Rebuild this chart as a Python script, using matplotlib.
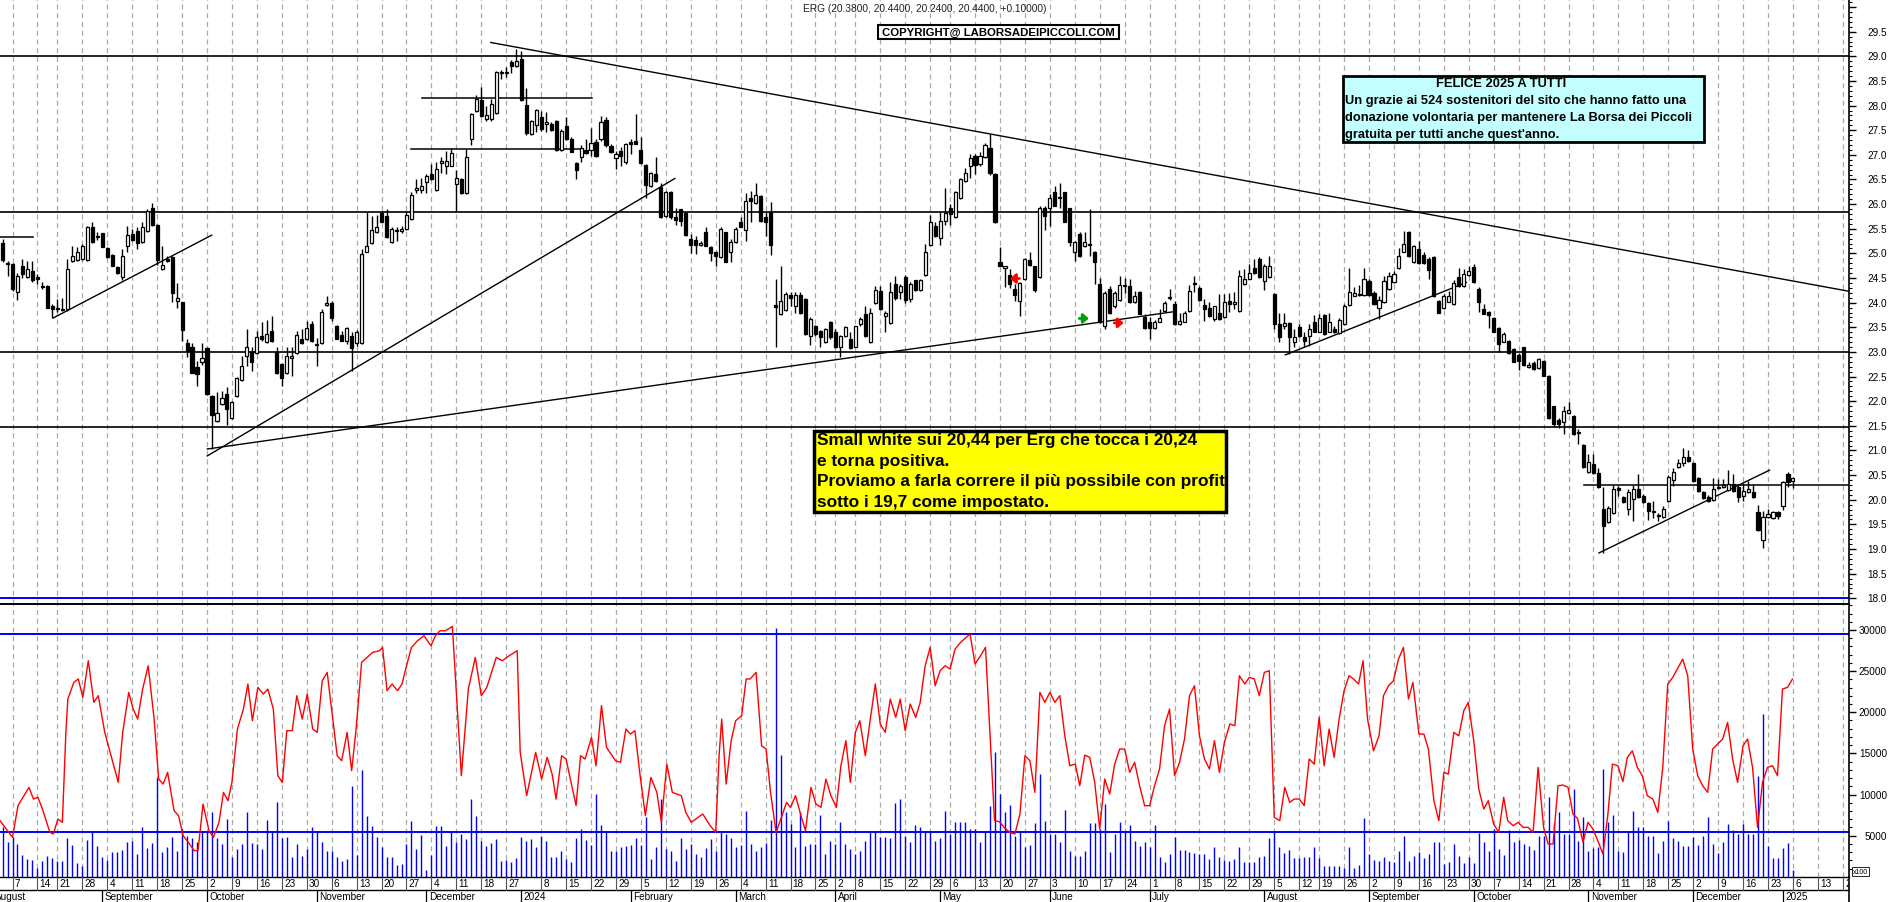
import numpy as np
import pandas as pd
import matplotlib
matplotlib.use("Agg")
import matplotlib.pyplot as plt
from matplotlib.patches import Rectangle
from matplotlib.transforms import blended_transform_factory as blend

# ------------------------------------------------------------------ data
title_text = "ERG (20.3800, 20.4400, 20.2400, 20.4400, +0.10000)"
copyright_text = "COPYRIGHT@ LABORSADEIPICCOLI.COM"
cyan_title = "FELICE 2025 A TUTTI"
cyan_lines = ["Un grazie ai 524 sostenitori del sito che hanno fatto una",
              "donazione volontaria per mantenere La Borsa dei Piccoli",
              "gratuita per tutti anche quest'anno."]
yellow_lines = ["Small white sui 20,44 per Erg che tocca i 20,24",
                "e torna positiva.",
                "Proviamo a farla correre il più possibile con profit",
                "sotto i 19,7 come impostato."]

holidays = ["2023-08-15", "2023-12-25", "2023-12-26", "2024-01-01", "2024-03-29",
            "2024-04-01", "2024-05-01", "2024-08-15", "2024-12-24", "2024-12-25",
            "2024-12-26", "2024-12-31", "2025-01-01"]
calendar_start, calendar_end, origin_day = "2023-08-01", "2025-01-24", "2023-08-07"
first_pos = -2   # first candle = 3 Aug 2023 ; position 0 = 7 Aug 2023

opens = [25.22, 24.80,
 24.78, 24.21, 24.75, 24.53, 24.65, 24.53, 24.34, 24.34, 23.94, 23.90,
 23.86, 23.87, 24.84, 24.87, 24.89, 24.87, 25.53, 25.36, 25.41, 25.10,
 24.97, 24.72, 24.53, 25.14, 25.39, 25.46, 25.24, 25.46, 25.93, 25.57,
 24.68, 24.89, 24.93, 24.04, 24.01, 23.18, 23.11, 22.69, 22.80, 23.07,
 22.10, 21.60, 21.94, 22.15, 21.65, 22.10, 22.44, 22.91, 23.00, 22.97,
 23.33, 23.21, 23.43, 23.00, 22.75, 22.57, 22.87, 22.97, 23.27, 23.26,
 23.57, 23.14, 23.19, 23.96, 23.99, 23.52, 23.34, 23.23, 23.32, 23.19,
 23.19, 25.03, 25.22, 25.43, 25.81, 25.75, 25.24, 25.45, 25.45, 25.49,
 25.70, 26.28, 26.29, 26.44, 26.61, 26.29, 26.83, 26.78, 26.78, 26.40,
 26.51, 26.22, 27.33, 27.88, 28.11, 27.73, 27.73, 27.85, 28.66, 28.66,
 28.88, 28.80, 28.94, 28.01, 27.42, 27.61, 27.76, 27.63, 27.63, 27.69,
 27.10, 27.59, 27.33, 26.83, 26.95, 27.10, 27.10, 27.27, 27.32, 27.71,
 27.17, 26.93, 27.08, 26.85, 27.27, 27.29, 27.10, 26.79, 26.36, 26.61,
 26.34, 25.75, 26.25, 25.73, 25.90, 25.82, 25.29, 25.27, 25.18, 25.43,
 25.12, 25.02, 24.92, 25.43, 25.03, 25.24, 25.63, 25.48, 26.12, 26.02,
 26.16, 25.73, 25.83, 23.95, 23.77, 23.86, 24.15, 23.94, 24.15, 24.07,
 23.32, 23.52, 23.43, 23.21, 23.61, 23.41, 23.09, 23.32, 23.26, 23.11,
 23.57, 23.77, 23.21, 23.99, 24.24, 23.72, 23.59, 24.38, 24.21, 24.53,
 24.07, 24.45, 24.26, 24.56, 25.17, 25.55, 25.32, 25.65, 25.93, 25.73,
 26.12, 26.46, 26.78, 26.98, 26.82, 26.95, 27.13, 26.61, 24.82, 24.70,
 24.56, 24.28, 24.04, 24.48, 24.87, 24.74, 24.53, 25.93, 25.93, 26.24,
 26.14, 26.24, 25.92, 25.02, 25.39, 25.14, 25.20, 25.02, 24.38, 23.53,
 24.28, 23.93, 24.06, 24.33, 24.33, 24.01, 24.22, 23.70, 23.61, 23.48,
 23.61, 23.84, 24.09, 23.97, 23.57, 23.61, 23.84, 24.39, 24.29, 23.95,
 23.89, 23.66, 23.79, 23.70, 24.04, 23.97, 23.84, 24.38, 24.49, 24.70,
 24.89, 24.43, 24.53, 24.18, 23.57, 23.52, 23.59, 23.20, 23.50, 23.30,
 23.32, 23.60, 23.41, 23.74, 23.41, 23.47, 23.38, 23.57, 23.95, 24.14,
 24.16, 24.16, 24.43, 24.20, 23.90, 24.01, 24.28, 24.41, 24.70, 25.03,
 25.44, 24.83, 25.09, 24.97, 24.89, 24.92, 24.04, 23.90, 24.02, 23.97,
 24.53, 24.33, 24.56, 24.72, 24.28, 23.88, 23.82, 23.68, 23.48, 23.21,
 23.23, 23.05, 22.94, 23.09, 22.69, 22.78, 22.67, 22.82, 22.52, 21.90,
 21.62, 21.58, 21.76, 21.69, 21.38, 21.11, 20.56, 20.72, 20.54, 19.81,
 19.54, 19.73, 20.24, 20.05, 19.82, 20.01, 20.22, 20.08, 19.93, 19.77,
 19.69, 19.64, 19.98, 20.41, 20.66, 20.74, 20.86, 20.74, 20.45, 20.16,
 20.05, 20.00, 20.24, 20.25, 20.20, 20.32, 20.25, 20.07, 20.15, 20.16,
 19.76, 19.19, 19.64, 19.62, 19.76, 19.87, 20.52, 20.38]

highs = [25.30, 24.85,
 24.80, 24.61, 24.89, 24.85, 24.85, 24.58, 24.41, 24.36, 23.97, 24.07,
 24.09, 24.89, 25.16, 25.12, 25.19, 25.55, 25.63, 25.43, 25.41, 25.12,
 24.99, 24.74, 25.09, 25.55, 25.49, 25.53, 25.63, 25.91, 26.02, 25.60,
 25.16, 24.95, 24.95, 24.40, 24.02, 23.27, 23.19, 22.81, 23.19, 23.11,
 22.13, 22.18, 22.21, 22.28, 22.01, 22.50, 22.92, 23.46, 23.09, 23.43,
 23.60, 23.65, 23.72, 23.11, 22.77, 23.11, 23.09, 23.43, 23.46, 23.62,
 23.62, 23.29, 23.88, 24.14, 24.04, 23.55, 23.43, 23.50, 23.40, 23.44,
 25.08, 25.83, 25.76, 25.78, 25.87, 25.91, 25.54, 25.54, 25.56, 25.87,
 26.24, 26.51, 26.52, 26.62, 26.81, 26.85, 26.96, 27.08, 27.14, 26.70,
 26.52, 27.12, 27.85, 28.21, 28.37, 28.00, 28.13, 28.71, 28.73, 28.78,
 28.92, 29.15, 29.11, 28.35, 27.71, 27.94, 27.88, 27.86, 27.66, 27.71,
 27.52, 27.76, 27.36, 26.85, 27.19, 27.32, 27.54, 27.33, 27.79, 27.76,
 27.22, 27.08, 27.15, 27.25, 27.32, 27.83, 27.36, 26.81, 26.66, 26.95,
 26.43, 26.27, 26.27, 25.93, 25.91, 25.83, 25.39, 25.36, 25.26, 25.53,
 25.16, 25.05, 25.53, 25.44, 25.29, 25.53, 25.73, 26.23, 26.27, 26.42,
 26.18, 25.83, 26.05, 24.48, 24.75, 24.22, 24.22, 24.22, 24.22, 24.09,
 23.70, 23.55, 23.45, 23.48, 23.63, 23.46, 23.34, 23.52, 23.40, 23.53,
 23.70, 23.94, 23.90, 24.33, 24.34, 23.84, 24.41, 24.55, 24.38, 24.56,
 24.41, 24.47, 24.48, 25.19, 25.77, 25.63, 25.85, 26.32, 26.00, 26.27,
 26.54, 26.73, 27.02, 27.02, 27.05, 27.25, 27.42, 26.63, 25.12, 24.75,
 24.68, 24.38, 24.41, 24.90, 25.02, 24.75, 25.96, 25.96, 26.21, 26.37,
 26.42, 26.25, 25.93, 25.26, 25.43, 25.43, 25.91, 25.04, 24.51, 24.24,
 24.34, 24.24, 24.55, 24.51, 24.48, 24.24, 24.24, 23.77, 23.70, 23.65,
 23.87, 24.04, 24.28, 24.04, 23.80, 23.84, 24.36, 24.55, 24.34, 24.07,
 24.01, 23.94, 24.18, 24.18, 24.20, 24.21, 24.67, 24.68, 24.78, 24.89,
 24.92, 24.78, 24.95, 24.20, 23.79, 23.79, 23.60, 23.47, 23.57, 23.40,
 23.57, 23.74, 23.77, 23.77, 23.80, 23.53, 23.68, 23.97, 24.70, 24.31,
 24.35, 24.70, 24.48, 24.24, 24.14, 24.55, 24.62, 24.65, 25.10, 25.46,
 25.46, 25.17, 25.26, 25.02, 24.92, 24.94, 24.06, 24.18, 24.24, 24.45,
 24.70, 24.68, 24.75, 24.78, 24.31, 23.97, 23.84, 23.70, 23.50, 23.41,
 23.25, 23.07, 22.98, 23.11, 22.79, 22.82, 22.87, 22.84, 22.53, 21.91,
 21.65, 21.91, 21.99, 21.72, 21.44, 21.13, 20.93, 20.93, 20.64, 20.25,
 19.88, 20.30, 20.27, 20.08, 20.22, 20.30, 20.52, 20.12, 19.96, 19.98,
 19.74, 19.88, 20.50, 20.64, 20.83, 21.06, 21.00, 20.76, 20.47, 20.18,
 20.10, 20.45, 20.43, 20.42, 20.61, 20.52, 20.29, 20.34, 20.39, 20.32,
 19.89, 19.78, 19.81, 19.78, 19.78, 20.39, 20.56, 20.44]

lows = [24.82, 24.55,
 24.24, 24.06, 24.51, 24.51, 24.41, 24.38, 24.28, 23.89, 23.69, 23.82,
 23.83, 23.84, 24.82, 24.85, 24.87, 24.85, 25.21, 25.28, 25.12, 24.91,
 24.74, 24.58, 24.45, 25.02, 25.26, 25.09, 25.22, 25.44, 25.56, 24.77,
 24.66, 24.82, 24.02, 23.90, 23.23, 22.89, 22.57, 22.31, 22.74, 22.13,
 21.03, 21.57, 21.92, 21.52, 21.64, 22.09, 22.42, 22.72, 22.62, 22.96,
 23.23, 23.19, 23.21, 22.55, 22.31, 22.55, 22.52, 22.96, 23.16, 23.25,
 23.21, 22.72, 23.16, 23.94, 23.63, 23.26, 23.22, 23.16, 22.62, 23.13,
 23.16, 25.02, 25.19, 25.41, 25.63, 25.32, 25.22, 25.26, 25.41, 25.47,
 25.68, 26.22, 26.22, 26.22, 26.48, 26.27, 26.63, 26.61, 26.77, 25.83,
 26.21, 26.21, 27.20, 27.86, 27.76, 27.68, 27.69, 27.83, 28.54, 28.57,
 28.67, 28.78, 28.10, 27.40, 27.41, 27.47, 27.49, 27.46, 27.49, 27.08,
 27.08, 27.31, 27.05, 26.51, 26.85, 27.02, 26.98, 26.95, 27.29, 27.15,
 27.04, 26.71, 26.78, 26.81, 27.02, 27.22, 26.81, 26.12, 26.34, 26.44,
 25.71, 25.73, 25.70, 25.58, 25.55, 25.35, 25.01, 24.99, 25.16, 25.14,
 24.85, 24.75, 24.90, 24.82, 24.83, 25.21, 25.53, 25.26, 25.64, 26.00,
 25.64, 25.35, 24.97, 23.11, 23.75, 23.84, 23.94, 23.80, 23.77, 23.34,
 23.14, 23.33, 23.11, 23.19, 23.27, 23.07, 22.89, 23.30, 23.05, 23.09,
 23.53, 23.30, 23.19, 23.97, 23.86, 23.40, 23.57, 24.06, 24.07, 23.99,
 24.02, 24.24, 24.24, 24.55, 25.16, 25.33, 25.18, 25.58, 25.58, 25.71,
 26.10, 26.44, 26.54, 26.61, 26.78, 26.93, 26.60, 25.62, 24.74, 24.31,
 24.29, 24.04, 23.72, 24.47, 24.75, 24.21, 24.51, 25.48, 25.56, 25.96,
 25.93, 25.63, 25.14, 24.85, 24.92, 25.12, 24.95, 24.38, 23.59, 23.47,
 23.77, 23.89, 24.04, 24.20, 24.00, 24.00, 23.76, 23.47, 23.26, 23.47,
 23.60, 23.82, 24.06, 23.55, 23.55, 23.60, 23.82, 24.21, 24.04, 23.63,
 23.70, 23.63, 23.65, 23.68, 23.82, 23.87, 23.82, 24.36, 24.48, 24.58,
 24.51, 24.26, 24.51, 23.47, 23.20, 23.47, 22.96, 23.09, 23.30, 23.09,
 23.13, 23.40, 23.40, 23.34, 23.40, 23.38, 23.37, 23.55, 23.94, 24.13,
 24.13, 24.14, 24.14, 23.95, 23.67, 23.99, 24.26, 24.40, 24.68, 25.02,
 24.92, 24.81, 24.79, 24.79, 24.48, 24.11, 23.79, 23.87, 24.01, 23.96,
 24.31, 24.31, 24.55, 24.40, 23.82, 23.76, 23.48, 23.40, 22.99, 23.20,
 22.96, 22.79, 22.64, 22.72, 22.67, 22.63, 22.65, 22.51, 21.64, 21.47,
 21.45, 21.33, 21.74, 21.31, 21.13, 20.64, 20.54, 20.52, 20.23, 18.92,
 19.53, 19.71, 20.08, 19.93, 19.69, 19.57, 20.03, 19.93, 19.59, 19.62,
 19.57, 19.62, 19.96, 20.27, 20.64, 20.68, 20.77, 20.37, 20.16, 20.01,
 19.96, 19.98, 20.22, 20.23, 20.18, 20.15, 19.95, 19.98, 20.14, 20.03,
 19.37, 19.03, 19.62, 19.61, 19.61, 19.80, 20.25, 20.24]

closes = [24.86, 24.79,
 24.28, 24.55, 24.58, 24.68, 24.47, 24.48, 24.31, 23.90, 23.87, 23.88,
 23.88, 24.68, 24.95, 25.02, 25.16, 25.53, 25.24, 25.34, 25.12, 24.92,
 24.75, 24.60, 24.95, 25.37, 25.28, 25.22, 25.53, 25.87, 25.58, 24.86,
 24.76, 24.84, 24.19, 24.09, 23.45, 23.02, 22.58, 22.55, 22.87, 22.15,
 21.72, 21.76, 22.06, 21.85, 21.99, 22.48, 22.72, 23.09, 22.80, 23.31,
 23.26, 23.36, 23.23, 22.57, 22.48, 22.92, 22.92, 23.35, 23.18, 23.49,
 23.23, 23.17, 23.82, 24.00, 23.68, 23.27, 23.23, 23.48, 23.07, 23.41,
 24.99, 25.14, 25.47, 25.53, 25.64, 25.34, 25.49, 25.47, 25.49, 25.78,
 26.19, 26.32, 26.37, 26.58, 26.51, 26.71, 26.88, 26.88, 27.04, 26.52,
 26.22, 26.95, 27.82, 28.13, 27.78, 27.81, 28.03, 28.69, 28.67, 28.69,
 28.80, 28.91, 28.11, 27.44, 27.68, 27.91, 27.52, 27.67, 27.50, 27.10,
 27.49, 27.33, 27.06, 26.69, 27.13, 27.04, 27.25, 26.98, 27.66, 27.19,
 27.06, 27.02, 26.98, 27.22, 27.23, 27.23, 26.83, 26.39, 26.63, 26.46,
 25.73, 26.25, 25.73, 25.68, 25.66, 25.37, 25.18, 25.18, 25.22, 25.16,
 25.01, 24.94, 25.49, 24.83, 25.24, 25.49, 25.54, 26.07, 26.07, 26.18,
 25.66, 25.64, 25.18, 23.92, 24.04, 24.17, 24.09, 24.15, 23.79, 23.36,
 23.67, 23.36, 23.30, 23.46, 23.30, 23.09, 23.32, 23.50, 23.07, 23.52,
 23.67, 23.32, 23.79, 24.26, 23.87, 23.78, 24.22, 24.09, 24.33, 24.06,
 24.38, 24.26, 24.47, 25.03, 25.64, 25.35, 25.66, 25.82, 25.80, 26.25,
 26.50, 26.63, 26.93, 26.80, 26.97, 27.19, 26.63, 25.64, 24.75, 24.74,
 24.38, 24.16, 24.40, 24.89, 24.76, 24.26, 25.93, 25.75, 26.12, 25.97,
 26.13, 25.64, 25.24, 25.24, 24.94, 25.23, 25.17, 24.83, 23.60, 24.20,
 23.79, 24.20, 24.36, 24.36, 24.02, 24.13, 23.77, 23.48, 23.48, 23.60,
 23.68, 23.99, 24.11, 23.57, 23.63, 23.80, 24.24, 24.37, 24.06, 23.87,
 23.72, 23.93, 23.67, 24.02, 23.97, 24.02, 24.55, 24.49, 24.60, 24.60,
 24.53, 24.75, 24.75, 23.57, 23.30, 23.59, 23.30, 23.30, 23.32, 23.23,
 23.47, 23.41, 23.68, 23.36, 23.60, 23.40, 23.65, 23.94, 24.22, 24.20,
 24.18, 24.49, 24.16, 23.97, 24.06, 24.43, 24.55, 24.58, 24.94, 25.19,
 24.94, 25.14, 24.81, 24.81, 24.67, 24.14, 23.80, 24.13, 24.13, 24.40,
 24.33, 24.58, 24.65, 24.41, 24.01, 23.77, 23.75, 23.41, 23.16, 23.36,
 22.98, 22.80, 22.82, 22.73, 22.73, 22.65, 22.86, 22.52, 21.65, 21.54,
 21.54, 21.81, 21.83, 21.33, 21.35, 20.66, 20.76, 20.54, 20.25, 19.47,
 19.83, 20.22, 20.20, 19.96, 20.15, 20.22, 20.05, 19.96, 19.78, 19.76,
 19.66, 19.81, 20.47, 20.56, 20.74, 20.86, 20.79, 20.39, 20.18, 20.03,
 19.98, 20.22, 20.26, 20.29, 20.32, 20.18, 20.05, 20.18, 20.22, 20.05,
 19.39, 19.64, 19.71, 19.76, 19.66, 20.35, 20.35, 20.44]

volumes = [6000, 4190,
 4800, 3990, 2650, 2160, 2040, 1030, 1960, 2490, 2240, 1960,
 1960, 4670, 3860, 1680, 1270, 4470, 5400, 3780, 2370, 2080,
 3050, 3050, 3300, 4270, 4390, 2770, 6090, 3540, 4110, 11960,
 2970, 3580, 4800, 3130, 5810, 4920, 4670, 4190, 5610, 5400,
 7830, 4670, 3990, 7020, 2370, 3380, 3990, 7830, 4070, 3990,
 3380, 6900, 5570, 9050, 4670, 4800, 2370, 3990, 2570, 3380,
 6010, 5400, 4270, 3170, 3090, 2450, 1960, 2160, 11070, 2650,
 13020, 7430, 6210, 4880, 3580, 2370, 2450, 1430, 1560, 3990,
 6820, 3380, 5080, 800, 2650, 6130, 6130, 3780, 5400, 4270,
 5200, 4590, 9450, 7430, 4390, 3780, 4110, 4590, 1960, 2080,
 1840, 2240, 4800, 4390, 4590, 3580, 5000, 4390, 2370, 2370,
 3170, 2160, 1760, 4670, 5810, 4510, 3900, 10060, 6290, 5400,
 3170, 3170, 3580, 3700, 3860, 4670, 3860, 7310, 2160, 3580,
 9450, 3380, 3170, 1960, 4670, 3380, 3990, 2770, 2370, 3460,
 4590, 3170, 5400, 5200, 4670, 3580, 3860, 8040, 3990, 3170,
 3580, 4110, 6940, 30200, 14800, 7830, 6410, 3580, 7910, 3780,
 3990, 3990, 7510, 2770, 4390, 3990, 6620, 3990, 3380, 2770,
 3170, 4390, 5610, 5610, 4800, 4800, 4670, 8970, 9450, 5000,
 4190, 6290, 6010, 5400, 5480, 4390, 4670, 8040, 5200, 6620,
 6700, 6700, 5810, 5810, 4190, 5400, 8550, 15120, 10060, 7910,
 8720, 5000, 5400, 3580, 3860, 6530, 12490, 6820, 5200, 5200,
 4190, 8160, 3170, 2570, 2570, 3170, 6530, 6530, 5810, 8840,
 3050, 5200, 6700, 5610, 6290, 4390, 3700, 4190, 3580, 6290,
 2370, 1840, 2770, 4800, 3300, 3300, 3050, 2890, 2770, 2770,
 2160, 3580, 2370, 2080, 1960, 2160, 3580, 1760, 1760, 1760,
 2370, 2570, 4670, 5400, 3580, 2890, 3300, 2240, 2240, 2370,
 2370, 3580, 2240, 1350, 1350, 1350, 1350, 1030, 3580, 1030,
 1430, 7110, 2770, 2080, 1960, 2370, 1960, 1760, 3170, 4920,
 1960, 2490, 3050, 2240, 2770, 4270, 4270, 1560, 1760, 3990,
 2490, 1680, 2370, 1680, 5320, 4270, 3170, 5810, 3380, 2650,
 5730, 4190, 4470, 3990, 3780, 3300, 5000, 5000, 9650, 6530,
 7910, 5200, 5200, 10670, 4390, 7220, 3170, 3460, 3580, 13100,
 6620, 7510, 3170, 2970, 5610, 7960, 6010, 6010, 4920, 5000,
 2890, 4390, 6820, 4670, 4310, 3780, 3700, 4800, 3860, 4920,
 7220, 3990, 2890, 4270, 6410, 5730, 5200, 6410, 5200, 5200,
 12300, 19780, 3780, 2240, 2240, 3460, 4070, 870]

# oscillator (red line) vertices: (trading-day position, value)
red_pos = [-2.5, 0.0, 1.1, 3.3, 4.2, 5.1, 6.0, 7.5, 8.2, 9.1, 10.0, 10.7, 11.1, 12.3, 13.2,
 14.1, 15.2, 16.3, 17.2, 18.5, 19.4, 20.3, 21.2, 22.1, 23.3, 24.2, 25.1, 26.1, 27.2, 28.4,
 29.3, 30.2, 31.1, 32.4, 33.3, 34.2, 35.5, 36.4, 37.2, 38.2, 39.4, 40.3, 41.4, 42.3, 43.2,
 44.0, 45.1, 46.3, 47.2, 48.1, 49.2, 50.3, 51.2, 52.3, 53.2, 54.1, 55.0, 56.1, 57.0, 58.1,
 59.1, 60.2, 61.1, 62.1, 63.1, 65.1, 66.0, 67.1, 68.0, 68.9, 70.0, 72.2, 73.6, 74.2, 75.1,
 76.1, 77.2, 78.1, 79.0, 80.0, 81.2, 82.5, 83.9, 84.8, 85.7, 86.8, 88.2, 90.0, 91.4, 92.8,
 94.0, 95.1, 97.0, 98.2, 99.6, 101.2, 101.8, 103.1, 104.9, 106.1, 107.2, 108.2, 109.0, 110.1,
 111.0, 113.0, 113.9, 114.8, 116.1, 117.0, 118.1, 119.1, 120.9, 121.9, 123.0, 123.9, 124.8,
 125.8, 126.9, 128.0, 129.2, 130.1, 131.2, 132.3, 134.1, 135.0, 136.1, 138.4, 139.9, 141.0,
 141.7, 142.2, 143.1, 144.1, 145.0, 146.2, 147.1, 147.9, 149.1, 150.2, 151.1, 152.0, 153.1,
 154.3, 155.2, 156.0, 157.0, 158.1, 159.0, 160.1, 161.1, 162.1, 163.1, 164.1, 165.2, 166.1,
 167.1, 168.0, 169.0, 169.9, 171.0, 172.0, 173.0, 174.0, 175.0, 176.0, 177.1, 178.0, 179.0,
 180.0, 181.1, 182.0, 183.0, 184.0, 185.0, 186.0, 187.0, 188.0, 189.0, 190.1, 191.0, 192.0,
 193.0, 194.1, 195.1, 196.9, 197.9, 199.0, 200.0, 201.0, 202.0, 203.0, 204.0, 205.0, 206.0,
 207.0, 208.0, 209.0, 210.0, 211.0, 212.0, 213.1, 214.0, 215.0, 216.0, 217.0, 218.0, 219.0,
 220.0, 221.0, 222.0, 223.0, 224.0, 225.0, 226.0, 227.0, 228.0, 229.0, 230.0, 231.0, 232.0,
 233.0, 234.0, 235.0, 236.0, 237.0, 238.0, 239.0, 240.0, 241.0, 242.0, 243.0, 244.1, 245.1,
 246.0, 247.1, 248.0, 249.0, 250.0, 251.0, 252.0, 253.0, 254.1, 255.1, 256.1, 257.0, 258.0,
 259.0, 260.0, 261.0, 262.0, 263.0, 264.0, 265.0, 266.0, 267.0, 268.0, 268.9, 269.9, 270.8,
 271.7, 272.9, 274.0, 274.9, 275.9, 276.9, 277.9, 278.9, 279.9, 280.8, 282.0, 283.0, 283.9,
 285.0, 286.0, 287.0, 287.9, 289.0, 290.0, 291.0, 291.9, 293.0, 294.0, 295.0, 295.9, 297.0,
 298.0, 299.0, 299.8, 300.9, 301.9, 302.9, 303.9, 304.9, 305.9, 307.0, 307.9, 308.9, 309.9,
 310.9, 311.9, 312.9, 313.8, 314.9, 315.9, 316.9, 318.0, 318.9, 319.9, 320.8, 321.9, 322.9,
 323.8, 324.8, 325.8, 326.8, 327.8, 328.9, 329.9, 330.9, 331.9, 332.9, 333.8, 334.9, 335.9,
 336.9, 337.9, 338.9, 339.9, 340.9, 341.9, 342.9, 343.9, 344.9, 345.9, 347.0, 347.9, 348.9,
 349.9, 350.9, 351.9, 352.9, 353.9, 354.9, 355.9, 356.9]
red_val = [6820, 4800, 8650, 10870, 9450, 9660, 8240, 5400, 5200, 7020, 6620, 17550, 21600, 23630, 24040,
 21810, 26260, 21200, 22010, 17550, 15530, 13500, 11480, 17550, 22410, 20390, 19170, 22820, 25650, 19170,
 11880, 11270, 12690, 8030, 7430, 5000, 3990, 3180, 3180, 8840, 5610, 4800, 6620, 10260, 9250,
 11480, 17960, 20390, 23430, 18970, 23020, 22210, 22820, 20390, 12290, 11480, 17760, 17760, 22010, 19170,
 22210, 17960, 17550, 23830, 24840, 14720, 14110, 17550, 12900, 17960, 26060, 27270, 27480, 27880, 22620,
 23430, 22620, 23430, 25650, 27880, 28690, 29300, 28080, 29300, 29900, 29900, 30430, 12290, 22820, 26670,
 22010, 23020, 26670, 26260, 26870, 27480, 15120, 9860, 15120, 11880, 14520, 12490, 9450, 14720,
 14310, 8650, 14720, 14310, 16940, 13500, 20800, 15730, 14110, 13910, 17960, 17350, 17760,
 12490, 7430, 12080, 10260, 6620, 13700, 10260, 9860, 7830, 6620, 7630, 6210, 5400,
 14920, 19170, 11270, 16540, 18970, 19580, 24040, 24040, 24840, 15930, 15530, 10260, 5400,
 7430, 9050, 8440, 9860, 7430, 5610, 10870, 8840, 8440, 11880, 9860, 8440, 13500,
 16540, 11480, 17550, 18970, 14720, 19170, 23430, 18560, 17550, 21600, 19380, 21600, 17760,
 21000, 19380, 21200, 25650, 27880, 23220, 25050, 25650, 25250, 27680, 28490, 28980, 29500,
 25860, 26870, 27880, 6820, 6700, 5890, 5400, 5200, 7630, 14720, 14110, 10260, 22410,
 21200, 22410, 21200, 22010, 17130, 13500, 13700, 11070, 14790, 14520, 11480, 5810, 11880,
 10060, 13700, 15530, 15530, 12690, 13910, 11070, 8640, 8640, 11070, 13100, 18360, 20390,
 12290, 13910, 16740, 22010, 23220, 17130, 14310, 13100, 16540, 12690, 16340, 18570, 18360,
 24440, 23430, 24240, 24030, 22010, 24840, 25050, 7230, 6820, 10870, 9050, 9450, 9450,
 8650, 14310, 13700, 19380, 13500, 17960, 14520, 19170, 22620, 24440, 24030, 23430, 26260,
 19170, 15310, 17130, 22010, 23220, 23830, 26460, 27880, 21600, 23630, 17350, 17350, 15530,
 9250, 6820, 12690, 12490, 17550, 17130, 20190, 21200, 16540, 10670, 8240, 9250, 6410,
 5400, 9660, 6820, 6210, 6620, 6010, 6010, 5400, 13300, 6010, 3990, 3990, 11070,
 11150, 10870, 7630, 7110, 4190, 6620, 5810, 4190, 2770, 7630, 13700, 13500, 11560,
 14520, 15310, 13300, 12290, 9860, 9450, 7830, 13300, 23430, 24240, 25230, 26460, 24440,
 15530, 12290, 11070, 10260, 15530, 16140, 16740, 18770, 14310, 11480, 15930, 16740, 13300,
 6010, 11480, 13300, 13500, 12290, 22820, 23020, 24030]

# drawn studies (trading-day position, price)
trend_lines = [((95.9, 29.28), (368.3, 24.23)),
               ((39.06, 21.03), (233.1, 23.82)),
               ((39.06, 20.89), (132.8, 26.52)),
               ((8.18, 23.69), (39.94, 25.37)),
               ((255.2, 22.94), (291.5, 24.41)),
               ((318.1, 18.92), (352.3, 20.60))]
short_levels = [(25.33, -2.6, 4.03), (28.15, 82.05, 116.1), (27.11, 80.0, 113.9), (20.30, 315.1, 368.3)]
full_levels = [29.0, 25.85, 23.0, 21.48]
blue_price_level = 18.0
blue_osc_levels = [29500, 5400]
arrows = [((213.9, 23.68), (215.8, 23.68), "#00a000"),
          ((201.9, 24.49), (200.0, 24.49), "#ff0000"),
          ((220.9, 23.59), (222.8, 23.59), "#ff0000")]
month_names = {1: None, 2: "February", 3: "March", 4: "April", 5: "May", 6: "June", 7: "July",
               8: "August", 9: "September", 10: "October", 11: "November", 12: "December"}

assert len(opens) == len(highs) == len(lows) == len(closes) == len(volumes)
assert len(red_pos) == len(red_val)

# ------------------------------------------------------------------ layout
W, H, DPI = 1890, 903, 100
fig = plt.figure(figsize=(W / DPI, H / DPI), dpi=DPI)
fig.patch.set_facecolor("white")


def fx(p):
    return p / W


def fy(p):
    return 1 - p / H


AXR = 1849.3
PB = 605.0      # bottom of price panel (px)
VB = 877.8      # bottom of oscillator/volume panel (px)
SANS = ["Liberation Sans", "DejaVu Sans"]
plt.rcParams["font.family"] = SANS

ax = fig.add_axes([0, fy(PB), fx(AXR), PB / H])
axv = fig.add_axes([0, fy(VB), fx(AXR), (VB - PB) / H])
axd = fig.add_axes([0, 0, fx(AXR), (H - VB) / H])

XMIN, XMAX = -2.507, 368.3
for a in (ax, axv, axd):
    a.set_xlim(XMIN, XMAX)
    a.patch.set_alpha(0)
    a.set_xticks([])
    for s in ("top", "left", "bottom"):
        a.spines[s].set_visible(False)
    a.spines["right"].set_linewidth(1.2)
ax.set_ylim(17.884, 30.163)
axv.set_ylim(0, 33155)
axd.set_ylim(0, H - VB)
axv.spines["top"].set_visible(True)
axv.spines["top"].set_linewidth(1.4)
axv.spines["bottom"].set_visible(True)
axv.spines["bottom"].set_linewidth(1.0)
axd.set_yticks([])

# ------------------------------------------------------------------ calendar
days = pd.bdate_range(calendar_start, calendar_end)
days = days[~days.isin(pd.to_datetime(holidays))]
origin = list(days).index(pd.Timestamp(origin_day))
positions = np.arange(len(days)) - origin

week_first = {}
month_first = {}
for d, p in zip(days, positions):
    wk = (d.isocalendar()[0], d.isocalendar()[1])
    week_first.setdefault(wk, (d, p))
    month_first.setdefault((d.year, d.month), (d, p))

day_ticks = []
last = -1e9
for wk in sorted(week_first):
    d, p = week_first[wk]
    if p - last >= 4:
        if p >= 0:
            day_ticks.append((d, p))
        last = p

# grid
for d, p in day_ticks:
    for a in (ax, axv):
        a.axvline(p, color="#a9a9a9", lw=0.9, ls=(0, (4, 3)), zorder=0)

# ------------------------------------------------------------------ price panel
for lvl in full_levels:
    ax.axhline(lvl, color="black", lw=1.2, zorder=2)
ax.axhline(blue_price_level, color="#0000ff", lw=1.4, zorder=2)
for lvl, x0, x1 in short_levels:
    ax.plot([x0, x1], [lvl, lvl], color="black", lw=1.1, zorder=2)
for (x0, y0), (x1, y1) in trend_lines:
    ax.plot([x0, x1], [y0, y1], color="black", lw=1.0, zorder=2)

o = np.array(opens); h = np.array(highs); l = np.array(lows); c = np.array(closes)
x = np.arange(first_pos, first_pos + len(c))
ax.vlines(x, l, h, color="black", lw=1.0, zorder=3)
up = c >= o
ax.bar(x[up], np.maximum(c[up] - o[up], 0.012), bottom=o[up], width=0.62,
       facecolor="white", edgecolor="black", linewidth=0.9, zorder=4)
ax.bar(x[~up], np.maximum(o[~up] - c[~up], 0.012), bottom=c[~up], width=0.62,
       facecolor="black", edgecolor="black", linewidth=0.9, zorder=4)

for (xa, ya), (xb, yb), col in arrows:
    ax.annotate("", xy=(xb, yb), xytext=(xa, ya),
                arrowprops=dict(arrowstyle="-|>,head_length=0.4,head_width=0.35",
                                color=col, lw=2.0, mutation_scale=8, shrinkA=0, shrinkB=0),
                zorder=6)

# right price scale
ax.yaxis.tick_right()
ax.set_yticks(np.arange(18.0, 30.01, 0.5))
ax.set_yticks(np.arange(18.0, 30.15, 0.1), minor=True)
ax.tick_params(axis="y", which="major", length=5, width=1, labelright=False, direction="out")
ax.tick_params(axis="y", which="minor", length=2.5, width=0.8, direction="out")
tp = blend(fig.transFigure, ax.transData)
for v in np.arange(18.0, 29.51, 0.5):
    ax.text(fx(1887), v, f"{v:.1f}", transform=tp, ha="right", va="center",
            fontsize=7.2, clip_on=False)

# ------------------------------------------------------------------ lower panel
xv = np.arange(first_pos, first_pos + len(volumes))
axv.vlines(xv, 0, volumes, color="#0000ff", lw=1.0, zorder=2)
for lvl in blue_osc_levels:
    axv.axhline(lvl, color="#0000ff", lw=1.4, zorder=2)
axv.plot(red_pos, red_val, color="#ff0000", lw=1.0, zorder=3)
axv.yaxis.tick_right()
axv.set_yticks(np.arange(5000, 30001, 5000))
axv.set_yticks(np.arange(1000, 33001, 1000), minor=True)
axv.tick_params(axis="y", which="major", length=5, width=1, labelright=False, direction="out")
axv.tick_params(axis="y", which="minor", length=2.5, width=0.8, direction="out")
tv = blend(fig.transFigure, axv.transData)
for v in range(5000, 30001, 5000):
    axv.text(fx(1887), v, f"{v}", transform=tv, ha="right", va="center",
             fontsize=7.2, clip_on=False)
fig.text(fx(1860.5), fy(872.5), "x100", fontsize=5, ha="center", va="center",
         bbox=dict(boxstyle="square,pad=0.15", fc="white", ec="black", lw=0.6))

# ------------------------------------------------------------------ date axis
SEP = H - 891.0
axd.axhline(SEP, color="black", lw=1.0)
for d, p in day_ticks:
    axd.plot([p, p], [SEP, H - VB], color="#555555", lw=0.8)
    axd.text(p + 0.45, (SEP + H - VB) / 2 + 0.3, str(d.day), ha="left", va="center",
             fontsize=7.2, clip_on=True)
for (yr, mo), (d, p) in sorted(month_first.items()):
    axd.plot([p, p], [0, SEP], color="black", lw=0.9)
    name = month_names[mo] if month_names[mo] else str(yr)
    axd.text(p + 0.45, SEP / 2 - 0.3, name, ha="left", va="center",
             fontsize=7.2, clip_on=True)

# ------------------------------------------------------------------ texts & boxes
fig.text(fx(925), fy(9), title_text, ha="center", va="center", fontsize=7.3,
         family=SANS, color="#222222")


def box(x0, y0, x1, y1, fc, lw):
    fig.patches.append(Rectangle((fx(x0), fy(y1)), fx(x1 - x0), (y1 - y0) / H,
                                 transform=fig.transFigure, fc=fc, ec="black",
                                 lw=lw, zorder=10))


box(877.7, 26, 1118.75, 40, "white", 1.5)
fig.text(fx(998.2), fy(33.3), copyright_text, ha="center", va="center",
         fontsize=8.2, fontweight="bold", family=SANS, zorder=11)

box(1342.5, 76.7, 1703.7, 142.7, "#c4ffff", 2.0)
fig.text(fx(1501), fy(84), cyan_title, ha="center", va="center", fontsize=9.3,
         fontweight="bold", family=SANS, zorder=11)
for k, line in enumerate(cyan_lines):
    fig.text(fx(1345), fy(101 + 17 * k), line, ha="left", va="center", fontsize=9.3,
             fontweight="bold", family=SANS, zorder=11)

box(814.3, 431.7, 1225.9, 513.3, "#ffff00", 2.5)
for k, (line, yc) in enumerate(zip(yellow_lines, [440.7, 461.7, 481.3, 502.3])):
    fig.text(fx(817.5), fy(yc), line, ha="left", va="center", fontsize=12.4,
             fontweight="bold", family=SANS, zorder=11)

fig.savefig("out.png", dpi=DPI, facecolor="white")
